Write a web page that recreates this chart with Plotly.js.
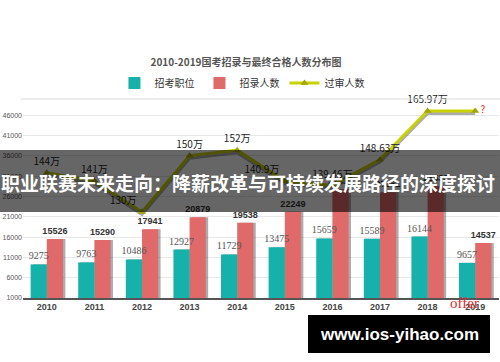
<!DOCTYPE html>
<html><head><meta charset="utf-8">
<script src="https://cdn.plot.ly/plotly-3.0.1.min.js"></script>
<style>html,body{margin:0;padding:0;background:#fff}#chart{width:500px;height:362px}</style>
</head><body><div id="chart"></div>
<script>
const years = ['2010','2011','2012','2013','2014','2015','2016','2017','2018','2019'];
const positions = [9275,9763,10486,12927,11729,13475,15659,15589,16144,9657];
const hires = [15526,15290,17941,20879,19538,22249,27817,27061,28533,14537];
const passed = [144,141,130,150,152,140.9,139.46,148.63,165.97,165.97];
const passedLabels = ['144万','141万','130万','150万','152万','140.9万','139.46万','148.63万','165.97万','?'];
const yTicks = [1000,6000,11000,16000,21000,26000,31000,36000,41000,46000];

const CJK = '"Noto Sans CJK SC", "Liberation Sans", sans-serif';
const BW = 0.34;
const teal = '#16b1ab', salmon = '#e06a6a';
const shadow = 'rgba(70,70,70,0.45)';

const traces = [
  {type:'bar', x:years, y:positions, width:BW, offset:-BW+0.05, marker:{color:shadow}, showlegend:false, hoverinfo:'skip'},
  {type:'bar', x:years, y:hires, width:BW, offset:0.05, marker:{color:shadow}, showlegend:false, hoverinfo:'skip'},
  {type:'bar', name:'招录人数', legendrank:2, x:years, y:hires, width:BW, offset:0, marker:{color:salmon},
   text:hires.map(String), textposition:'outside', cliponaxis:false, constraintext:'none',
   textfont:{family:'"Liberation Sans", sans-serif', size:9, color:'#333', weight:'bold'}},
  {type:'bar', name:'招考职位', legendrank:1, x:years, y:positions, width:BW, offset:-BW, marker:{color:teal},
   text:positions.map(String), textposition:'outside', cliponaxis:false, constraintext:'none',
   textfont:{family:'"Liberation Serif", serif', size:10, color:'#555'}},
  {type:'scatter', mode:'lines', x:years, y:passed, yaxis:'y2', line:{color:'rgba(90,90,90,0.5)', width:3},
   showlegend:false, hoverinfo:'skip'},
  {type:'scatter', mode:'lines+markers+text', name:'过审人数', legendrank:3, x:years, y:passed, yaxis:'y3',
   line:{color:'#c8d200', width:3}, marker:{symbol:'triangle-up', size:7, color:'#a3a500'},
   text:passedLabels, cliponaxis:false,
   textposition:['top center','top center','top left','top center','top center','top left','top center','top center','top center','middle right'],
   textfont:{family:CJK, size:10, color:['#222','#222','#222','#222','#222','#222','#222','#222','#222','#e02020']}}
];

const layout = {
  width:500, height:362,
  margin:{l:23, r:1, t:99, b:64},
  paper_bgcolor:'#fff', plot_bgcolor:'#fff',
  barmode:'overlay',
  title:{text:'2010-2019国考招录与最终合格人数分布图', font:{family:CJK, size:10, color:'#555', weight:'bold'},
         xref:'container', x:0.492, xanchor:'center', yref:'container', y:1-62/362, yanchor:'middle'},
  legend:{orientation:'h', x:0.46, xanchor:'center', y:(298-83)/199, yanchor:'middle',
          font:{family:CJK, size:10, color:'#333'}, bgcolor:'rgba(0,0,0,0)', traceorder:'normal'},
  xaxis:{type:'category', range:[-0.5,9.5], showgrid:false, showline:true, linecolor:'#555', linewidth:1.5,
         ticks:'', tickfont:{family:'"Liberation Sans", sans-serif', size:9, color:'#444', weight:'bold'}, fixedrange:true},
  yaxis:{range:[1000,50000], tickvals:yTicks, ticktext:yTicks.map(String), showgrid:true, gridcolor:'#e8e8e8',
         zeroline:false, showline:false, ticks:'', tickfont:{family:'"Liberation Sans", sans-serif', size:7, color:'#555'}},
  yaxis2:{overlaying:'y', range:[99.4+0.9,170.2+0.9], visible:false},
  yaxis3:{overlaying:'y', range:[99.4,170.2], visible:false},
  shapes:[
    {type:'line', xref:'paper', yref:'paper', x0:-0.005, x1:1.01, y0:1, y1:1, line:{color:'#dcdcdc', width:1}},
    {type:'rect', xref:'paper', yref:'paper', x0:-0.06, x1:1.01, y0:(298-212)/199, y1:(298-150)/199,
     fillcolor:'rgba(0,0,0,0.6)', line:{width:0}, layer:'above'},
    {type:'rect', xref:'paper', yref:'paper', x0:(308-23)/476, x1:(490-23)/476, y0:(298-353)/199, y1:(298-315)/199,
     fillcolor:'#000', line:{width:0}, layer:'above'}
  ],
  annotations:[
    {text:'职业联赛未来走向：降薪改革与可持续发展路径的深度探讨', xref:'paper', yref:'paper',
     x:(248-23)/476, y:(298-182)/199, xanchor:'center', yanchor:'middle', showarrow:false,
     font:{family:CJK, size:19, color:'#fff', weight:'bold'}},
    {text:'www.ios-yihao.com', xref:'paper', yref:'paper', x:(399-23)/476, y:(298-334)/199,
     xanchor:'center', yanchor:'middle', showarrow:false,
     font:{family:'"Liberation Sans", sans-serif', size:17, color:'#fff', weight:'bold'}},
    {text:'offer', xref:'paper', yref:'paper', x:(464-23)/476, y:(298-303)/199,
     xanchor:'center', yanchor:'middle', showarrow:false,
     font:{family:'"Liberation Serif", serif', size:15, color:'#e02a2a'}}
  ]
};
Plotly.newPlot('chart', traces, layout, {displayModeBar:false, staticPlot:true});
</script>
</body></html>
